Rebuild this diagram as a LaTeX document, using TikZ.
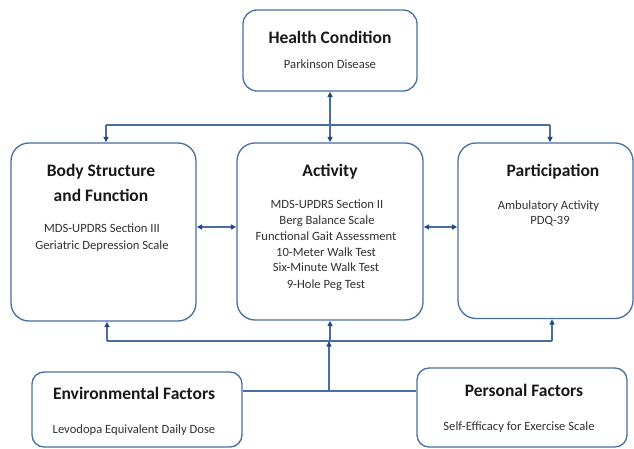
\documentclass[tikz,border=0pt]{standalone}
\usepackage{fontspec}
\setmainfont{Carlito}
\usetikzlibrary{arrows.meta}
\definecolor{edge}{RGB}{72,110,164}
\definecolor{tipc}{RGB}{30,75,135}
\definecolor{ink}{RGB}{25,25,25}
\definecolor{subc}{RGB}{50,50,50}
\begin{document}
\begin{tikzpicture}[x=1pt,y=-1pt,
  box/.style={draw=edge, line width=1.3pt, rounded corners=#1, inner sep=0pt, fill=white},
  box/.default=14pt,
  ttl/.style={font=\bfseries\fontsize{17.5}{20}\selectfont, text=ink, anchor=base, inner sep=0pt},
  itm/.style={font=\fontsize{12.6}{15}\selectfont, text=subc, anchor=base, inner sep=0pt},
  con/.style={draw=edge, line width=1.3pt},
  arr/.style={con, -{Triangle[length=5.5pt,width=5pt,color=tipc]}},
  biarr/.style={con, {Triangle[length=5.5pt,width=5pt,color=tipc]}-{Triangle[length=5.5pt,width=5pt,color=tipc]}}
]
\fill[white] (0,0) rectangle (634,449);
\useasboundingbox (0,0) rectangle (634,449);

% boxes
\node[box=14pt, minimum width=174pt, minimum height=81pt] (hc) at (330,50.5) {};
\node[box=18pt, minimum width=185pt, minimum height=178pt] (body) at (103.5,232) {};
\node[box=18pt, minimum width=186pt, minimum height=177pt] (act) at (330,231.5) {};
\node[box=18pt, minimum width=175pt, minimum height=175.5pt] (part) at (545.5,230.75) {};
\node[box=12pt, minimum width=210pt, minimum height=75pt] (env) at (137,409.5) {};
\node[box=12pt, minimum width=210pt, minimum height=79pt] (pers) at (522,407.5) {};

% texts
\node[ttl] (hct) at (330,44) {Health Condition};
\node[itm] (hcs) at (330,69) {Parkinson Disease};

\node[ttl] (bt1) at (101,176.7) {Body Structure};
\node[ttl] (bt2) at (101,201) {and Function};
\node[itm] (bi1) at (102,233) {MDS-UPDRS Section III};
\node[itm] (bi2) at (102,249) {Geriatric Depression Scale};

\node[ttl] (at) at (330,176.7) {Activity};
\node[itm] (ai1) at (327,208) {MDS-UPDRS Section II};
\node[itm] (ai2) at (327,224) {Berg Balance Scale};
\node[itm] (ai3) at (326,240) {Functional Gait Assessment};
\node[itm] (ai4) at (326,256) {10-Meter Walk Test};
\node[itm] (ai5) at (326,271.5) {Six-Minute Walk Test};
\node[itm] (ai6) at (326,288) {9-Hole Peg Test};

\node[ttl] (pt) at (553,176.7) {Participation};
\node[itm] (pi1) at (548.5,209) {Ambulatory Activity};
\node[itm] (pi2) at (550,224) {PDQ-39};

\node[ttl] (et) at (134,399) {Environmental Factors};
\node[itm] (es) at (134,433) {Levodopa Equivalent Daily Dose};

\node[ttl] (prt) at (524,396) {Personal Factors};
\node[itm] (prs) at (519,430) {Self-Efficacy for Exercise Scale};

% connectors
\coordinate (tl) at (106,125);
\coordinate (tr) at (550,125);
\draw[con] (tl) -- (tr);
\draw[arr] (tl) -- (tl |- body.north);
\draw[arr] (tr) -- (tr |- part.north);
\draw[biarr] (hc) -- (act);

\coordinate (m) at (0,227);
\draw[biarr] (body.east |- m) -- (act.west |- m);
\draw[biarr] (act.east |- m) -- (part.west |- m);

\coordinate (bl) at (107,341);
\coordinate (br) at (552,341);
\draw[con] (bl) -- (br);
\draw[arr] (bl) -- (bl |- body.south);
\draw[arr] (br) -- (br |- part.south);
\draw[arr] (act.south |- bl) -- (act.south);

\coordinate (j) at (329,391);
\draw[con] (env.east |- j) -- (pers.west |- j);
\draw[arr] (j) -- (j |- bl);
\end{tikzpicture}
\end{document}
